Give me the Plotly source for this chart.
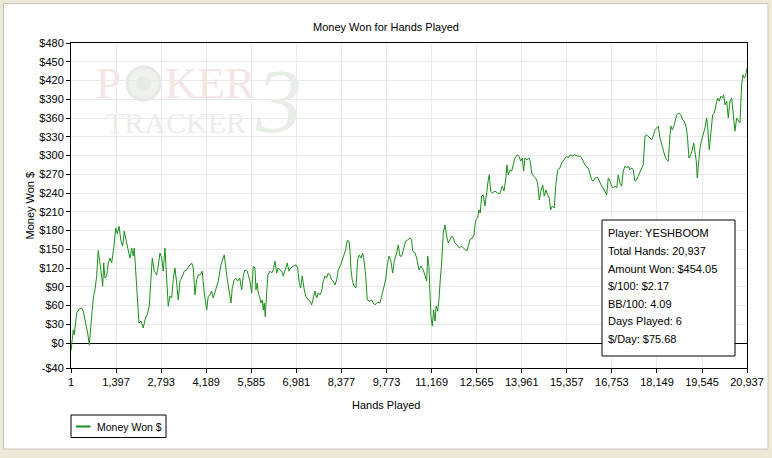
import plotly.graph_objects as go

# ---- data (hands played vs cumulative money won) ----
hands = [
    1, 71, 102, 177, 248, 331, 381, 455, 517, 567,
    619, 691, 743, 796, 845, 907, 951, 982, 1013, 1053,
    1106, 1155, 1208, 1260, 1332, 1384, 1434, 1487, 1549, 1601,
    1651, 1725, 1775, 1827, 1880, 1929, 1960, 2004, 2066, 2106,
    2168, 2239, 2292, 2375, 2425, 2478, 2518, 2580, 2654, 2704,
    2756, 2809, 2858, 2911, 2964, 3013, 3066, 3119, 3168, 3221,
    3273, 3323, 3376, 3428, 3509, 3583, 3654, 3738, 3788, 3840,
    3893, 3942, 3995, 4066, 4128, 4203, 4252, 4305, 4357, 4407,
    4481, 4562, 4646, 4686, 4748, 4822, 4893, 4955, 4995, 5057,
    5101, 5163, 5225, 5287, 5336, 5389, 5460, 5544, 5596, 5646,
    5698, 5729, 5770, 5801, 5853, 5884, 5925, 5956, 5986, 6017,
    6061, 6101, 6163, 6216, 6265, 6318, 6371, 6420, 6473, 6525,
    6575, 6628, 6699, 6751, 6804, 6885, 6968, 7021, 7070, 7114,
    7163, 7216, 7269, 7349, 7402, 7454, 7504, 7557, 7609, 7659,
    7712, 7764, 7814, 7866, 7919, 7969, 8021, 8074, 8123, 8176,
    8229, 8278, 8352, 8402, 8455, 8507, 8557, 8610, 8641, 8672,
    8712, 8765, 8826, 8879, 8929, 8981, 9034, 9074, 9127, 9176,
    9238, 9313, 9362, 9415, 9486, 9570, 9622, 9672, 9746, 9796,
    9848, 9901, 9963, 10013, 10087, 10136, 10189, 10242, 10291, 10366,
    10428, 10499, 10551, 10582, 10654, 10706, 10778, 10840, 10911, 10963,
    11016, 11047, 11087, 11118, 11149, 11189, 11233, 11273, 11313, 11357,
    11397, 11437, 11481, 11530, 11583, 11635, 11685, 11738, 11790, 11840,
    11892, 11964, 12026, 12100, 12171, 12255, 12304, 12357, 12428, 12481,
    12534, 12595, 12636, 12676, 12719, 12769, 12822, 12874, 12924, 12955,
    12998, 13048, 13131, 13215, 13286, 13357, 13410, 13463, 13503, 13543,
    13596, 13649, 13698, 13751, 13813, 13875, 13927, 13977, 14020, 14060,
    14122, 14184, 14225, 14268, 14330, 14392, 14454, 14503, 14556, 14609,
    14658, 14711, 14763, 14813, 14856, 14906, 14968, 15011, 15073, 15144,
    15197, 15268, 15352, 15401, 15454, 15526, 15609, 15693, 15764, 15817,
    15866, 15940, 16021, 16073, 16126, 16175, 16228, 16312, 16383, 16436,
    16485, 16538, 16591, 16640, 16693, 16745, 16795, 16848, 16900, 16950,
    17003, 17056, 17105, 17157, 17210, 17260, 17313, 17365, 17414, 17467,
    17520, 17569, 17622, 17675, 17724, 17777, 17829, 17879, 17932, 17984,
    18034, 18086, 18139, 18189, 18241, 18294, 18344, 18396, 18449, 18499,
    18551, 18582, 18622, 18684, 18759, 18830, 18892, 18944, 18994, 19047,
    19087, 19139, 19192, 19242, 19285, 19325, 19366, 19397, 19427, 19480,
    19533, 19582, 19635, 19687, 19718, 19768, 19821, 19873, 19923, 19976,
    20028, 20078, 20131, 20183, 20214, 20254, 20307, 20357, 20409, 20462,
    20511, 20564, 20617, 20666, 20719, 20771, 20812, 20852, 20894, 20937,
]
money_won = [
    -13, 21, 13, 48, 54, 56, 51, 32, 16, -3,
    27, 72, 85, 107, 148, 128, 107, 91, 128, 104,
    107, 128, 136, 128, 155, 184, 175, 187, 163, 155,
    179, 160, 149, 136, 152, 139, 152, 117, 64, 32,
    35, 24, 37, 48, 59, 107, 136, 115, 109, 123,
    144, 136, 115, 152, 107, 59, 75, 72, 101, 120,
    96, 69, 99, 104, 115, 117, 123, 128, 120, 77,
    101, 109, 109, 115, 80, 53, 75, 77, 83, 72,
    85, 99, 125, 133, 141, 109, 85, 64, 88, 101,
    104, 99, 104, 85, 107, 117, 115, 99, 80, 123,
    120, 85, 96, 80, 72, 64, 69, 53, 64, 42,
    80, 109, 115, 112, 117, 131, 112, 120, 117, 115,
    107, 117, 128, 115, 120, 123, 125, 120, 96, 88,
    107, 88, 75, 69, 67, 61, 72, 83, 72, 80,
    77, 83, 99, 107, 104, 112, 109, 101, 99, 93,
    101, 117, 125, 133, 144, 149, 164, 163, 149, 117,
    101, 91, 88, 133, 141, 136, 144, 133, 107, 69,
    67, 69, 64, 61, 65, 64, 75, 85, 101, 125,
    139, 133, 112, 131, 144, 157, 139, 139, 149, 163,
    165, 168, 165, 147, 144, 136, 117, 123, 117, 107,
    99, 139, 123, 80, 43, 27, 53, 35, 59, 51,
    69, 101, 128, 176, 189, 171, 160, 165, 171, 168,
    160, 157, 152, 155, 152, 147, 155, 165, 168, 173,
    197, 200, 213, 208, 235, 237, 219, 245, 261, 269,
    243, 240, 243, 240, 239, 251, 243, 261, 285, 269,
    277, 275, 288, 296, 301, 299, 291, 296, 275, 296,
    293, 296, 291, 272, 267, 264, 256, 229, 243, 253,
    235, 245, 237, 232, 213, 219, 216, 251, 277, 280,
    288, 293, 299, 296, 301, 299, 301, 299, 299, 296,
    291, 283, 280, 272, 261, 259, 264, 265, 256, 251,
    248, 243, 237, 264, 259, 251, 248, 251, 248, 269,
    256, 251, 275, 283, 280, 283, 277, 280, 277, 259,
    261, 267, 275, 280, 285, 331, 333, 331, 328, 325,
    331, 341, 344, 347, 328, 317, 307, 299, 293, 291,
    333, 347, 341, 349, 365, 368, 365, 357, 355, 347,
    333, 296, 301, 309, 320, 307, 291, 264, 285, 312,
    325, 333, 344, 360, 347, 309, 336, 365, 368, 379,
    392, 387, 395, 392, 397, 381, 387, 360, 387, 392,
    371, 339, 360, 355, 352, 413, 429, 424, 427, 440,
]
assert len(hands) == len(money_won)

x_tick_vals = [1, 1397, 2793, 4189, 5585, 6981, 8377, 9773, 11169, 12565,
               13961, 15357, 16753, 18149, 19545, 20937]
y_tick_vals = [-40, 0, 30, 60, 90, 120, 150, 180, 210, 240, 270, 300, 330,
               360, 390, 420, 450, 480]
x_tick_text = [f"{v:,}" for v in x_tick_vals]
y_tick_text = [("-$%d" % -v) if v < 0 else ("$%d" % v) for v in y_tick_vals]

stats_lines = [
    "Player: YESHBOOM",
    "Total Hands: 20,937",
    "Amount Won: $454.05",
    "$/100: $2.17",
    "BB/100: 4.09",
    "Days Played: 6",
    "$/Day: $75.68",
]

series_name = "Money Won $"
line_color = "#1a8f1a"
FONT = "Liberation Sans"

# ---- geometry helpers (pixel -> paper coords) ----
L, R, T, B = 71, 747, 43, 368
W, H = R - L, B - T


def px(x):
    return (x - L) / W


def py(y):
    return (B - y) / H


def note(text, x, y, size=11, color="#000", family=FONT, xanchor="center", **kw):
    return dict(text=text, x=x, y=y, xref="paper", yref="paper", showarrow=False,
                xanchor=xanchor, yanchor="middle",
                font=dict(family=family, size=size, color=color), **kw)


fig = go.Figure()
fig.add_trace(go.Scatter(
    x=hands, y=money_won, mode="lines", name=series_name,
    line=dict(color=line_color, width=1),
))

shapes = []
annotations = []

# white panel over the beige window background
shapes.append(dict(type="rect", xref="paper", yref="paper",
                   x0=px(3.5), x1=px(768), y0=py(449), y1=py(3.5),
                   fillcolor="white", line=dict(color="#C9C6B9", width=1),
                   layer="below"))

# watermark "POKER TRACKER 3"
shapes.append(dict(type="circle", xref="paper", yref="paper",
                   x0=px(127), x1=px(160), y0=py(100), y1=py(67),
                   fillcolor="#EEF1EE", line=dict(color="#E4E9E4", width=3),
                   layer="below"))
shapes.append(dict(type="circle", xref="paper", yref="paper",
                   x0=px(136), x1=px(151), y0=py(91), y1=py(76),
                   fillcolor="#E6EBE6", line=dict(width=0), layer="below"))
annotations.append(note("P", px(108), py(83), size=45, color="#F5E6E6",
                        family="Liberation Serif", height=34))
annotations.append(note("KER", px(210), py(83), size=45, color="#F5E6E6",
                        family="Liberation Serif", height=34))
annotations.append(note("TRACKER", px(176), py(122), size=30, color="#ECECEC",
                        family="Liberation Serif", height=22))
annotations.append(note("<i>3</i>", px(278), py(101), size=92, color="#E8EDE8",
                        family="Liberation Serif", height=70))

# axis titles
annotations.append(note("Money Won $", px(29), 0.5, textangle=-90))
annotations.append(note("Hands Played", px(386), py(405)))

# legend (drawn manually)
shapes.append(dict(type="rect", xref="paper", yref="paper",
                   x0=px(71), x1=px(166), y0=py(437.5), y1=py(415),
                   fillcolor="white", line=dict(color="black", width=1)))
shapes.append(dict(type="line", xref="paper", yref="paper",
                   x0=px(76), x1=px(90.5), y0=py(426.5), y1=py(426.5),
                   line=dict(color=line_color, width=2)))
annotations.append(note(series_name, px(95), py(426.5), size=10.5, xanchor="left"))

# stats box
shapes.append(dict(type="rect", xref="paper", yref="paper",
                   x0=px(602), x1=px(735), y0=py(356), y1=py(220),
                   fillcolor="white", line=dict(color="black", width=1), layer="above"))
line_ys = [233, 251, 268.5, 286, 303.5, 321, 338.5]
for txt, ly in zip(stats_lines, line_ys):
    annotations.append(note(txt, px(606), py(ly), xanchor="left"))

fig.update_layout(
    width=772, height=458,
    margin=dict(l=L, r=772 - R, t=T, b=458 - B, autoexpand=False),
    paper_bgcolor="#ECE9D8", plot_bgcolor="white",
    showlegend=False,
    font=dict(family=FONT, size=11, color="#000"),
    title=dict(text="Money Won for Hands Played", x=0.5, xref="container", xanchor="center",
               y=1 - 27 / 458, yref="container", yanchor="middle",
               font=dict(family=FONT, size=11, color="#000")),
    shapes=shapes, annotations=annotations,
)
fig.update_xaxes(
    range=[1, 20937], tickmode="array", tickvals=x_tick_vals, ticktext=x_tick_text,
    showgrid=True, gridcolor="#EAEAEA", gridwidth=1,
    showline=True, linecolor="black", linewidth=1, mirror=True,
    ticks="outside", ticklen=4, tickcolor="black", zeroline=False, automargin=False,
    tickfont=dict(family=FONT, size=11, color="#000"),
)
fig.update_yaxes(
    range=[-40, 480], tickmode="array", tickvals=y_tick_vals, ticktext=y_tick_text,
    showgrid=True, gridcolor="#EAEAEA", gridwidth=1,
    showline=True, linecolor="black", linewidth=1, mirror=True,
    ticks="outside", ticklen=4, tickcolor="black", automargin=False,
    zeroline=True, zerolinecolor="black", zerolinewidth=1,
    tickfont=dict(family=FONT, size=11, color="#000"),
)

fig.write_html("out.html", config={"displayModeBar": False},
               post_script="document.body.style.margin='0';")
